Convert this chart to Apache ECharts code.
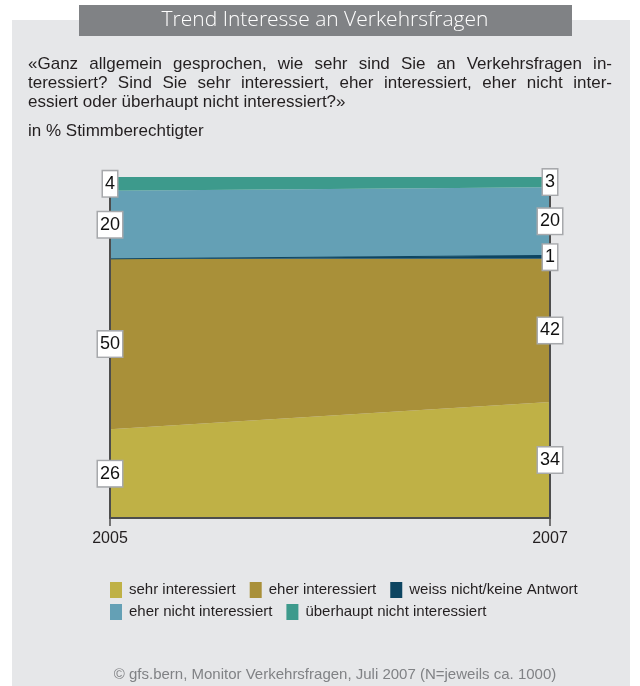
<!DOCTYPE html>
<html>
<head>
<meta charset="utf-8">
<script src="https://cdn.jsdelivr.net/npm/echarts@6/dist/echarts.min.js"></script>
<style>
  html, body { margin: 0; padding: 0; background: #fff; }
  #chart { width: 640px; height: 686px; }
</style>
</head>
<body>
<div id="chart"></div>
<script>
// Jahre
var years = ["2005", "2007"];
// Werte in % (Reihenfolge von unten nach oben)
var sehrInteressiert = [26, 34];
var eherInteressiert = [50, 42];
var weissNicht = [0, 1];
var eherNichtInteressiert = [20, 20];
var ueberhauptNicht = [4, 3];

var seriesNames = [
  "sehr interessiert",
  "eher interessiert",
  "weiss nicht/keine Antwort",
  "eher nicht interessiert",
  "überhaupt nicht interessiert"
];
var seriesColors = ["#bfb146", "#a99039", "#0d4561", "#64a0b5", "#3d9a8c"];
var allValues = [sehrInteressiert, eherInteressiert, weissNicht, eherNichtInteressiert, ueberhauptNicht];

var questionLines = [
  "«Ganz allgemein gesprochen, wie sehr sind Sie an Verkehrsfragen in-",
  "teressiert? Sind Sie sehr interessiert, eher interessiert, eher nicht inter-",
  "essiert oder überhaupt nicht interessiert?»"
];

var arial = "'Liberation Sans', Arial, sans-serif";
var textColor = "#231f20";

var myChart = echarts.init(document.getElementById("chart"));

var series = allValues.map(function (vals, i) {
  return {
    name: seriesNames[i],
    type: "line",
    stack: "total",
    symbol: "none",
    data: vals,
    lineStyle: { width: i === 2 ? 1 : 0, color: seriesColors[i] },
    areaStyle: { color: seriesColors[i], opacity: 1 },
    itemStyle: { color: seriesColors[i] },
    z: 2
  };
});

// Beschriftungen in der Mitte jedes Bandes
var labelData = [];
years.forEach(function (y, j) {
  var base = 0;
  allValues.forEach(function (vals) {
    var v = vals[j];
    if (v > 0) {
      labelData.push({ value: [j, base + v / 2], label: { formatter: String(v) } });
    }
    base += v;
  });
});

series.push({
  type: "scatter",
  data: labelData,
  symbolSize: 2,
  itemStyle: { color: "rgba(0,0,0,0)" },
  silent: true,
  z: 10,
  label: {
    show: true,
    position: "inside",
    fontFamily: arial,
    fontSize: 18,
    lineHeight: 18,
    color: "#111111",
    textBorderWidth: 0,
    opacity: 1,
    backgroundColor: "#ffffff",
    borderColor: "#a7a9ac",
    borderWidth: 1.5,
    padding: [4, 2, 3, 2]
  }
});

// Blocksatz fuer die Frage (letzte Zeile linksbuendig)
var measureCtx = document.createElement("canvas").getContext("2d");
var qFont = "17px " + arial;
measureCtx.font = qFont;
var graphics = [];
questionLines.forEach(function (line, li) {
  var y = 64 + li * 19;
  if (li === questionLines.length - 1) {
    graphics.push({ type: "text", x: 28, y: y, style: { text: line, fill: textColor, font: qFont, verticalAlign: "middle" } });
    return;
  }
  var words = line.split(" ");
  var total = 0;
  words.forEach(function (w) { total += measureCtx.measureText(w).width; });
  var gap = (612 - 28 - total) / (words.length - 1);
  var x = 28;
  words.forEach(function (w) {
    graphics.push({ type: "text", x: x, y: y, style: { text: w, fill: textColor, font: qFont, verticalAlign: "middle" } });
    x += measureCtx.measureText(w).width + gap;
  });
});

var option = {
  animation: false,
  backgroundColor: "#ffffff",
  graphic: [
    { type: "rect", shape: { x: 12, y: 20, width: 618, height: 666 }, style: { fill: "#e6e7e9" }, z: -10 },
    { type: "rect", shape: { x: 79, y: 5, width: 493, height: 31 }, style: { fill: "#808285" }, z: -5 },
    {
      type: "text", x: 325, y: 20,
      style: {
        text: "Trend Interesse an Verkehrsfragen",
        fill: "#ffffff", font: "300 21px 'Open Sans', sans-serif",
        align: "center", verticalAlign: "middle"
      }
    },
    {
      type: "text", x: 28, y: 131,
      style: { text: "in % Stimmberechtigter", fill: textColor, font: "17px " + arial, verticalAlign: "middle" }
    },
    {
      type: "text", x: 335, y: 675,
      style: {
        text: "© gfs.bern, Monitor Verkehrsfragen, Juli 2007 (N=jeweils ca. 1000)",
        fill: "#808285", font: "15px " + arial,
        align: "center", verticalAlign: "middle"
      }
    }
  ].concat(graphics),
  grid: { left: 110, right: 90, top: 177, bottom: 168 },
  legend: [
    {
      data: seriesNames.slice(0, 3),
      left: 110, top: 582, padding: 0,
      icon: "rect", itemWidth: 12, itemHeight: 16, itemGap: 14,
      textStyle: { fontFamily: arial, fontSize: 15, color: textColor, padding: [0, 0, 0, 2] }
    },
    {
      data: seriesNames.slice(3),
      left: 110, top: 604, padding: 0,
      icon: "rect", itemWidth: 12, itemHeight: 16, itemGap: 14,
      textStyle: { fontFamily: arial, fontSize: 15, color: textColor, padding: [0, 0, 0, 2] }
    }
  ],
  xAxis: {
    type: "category",
    data: years,
    boundaryGap: false,
    axisLine: { show: true, lineStyle: { color: "#4d4d4d", width: 2 } },
    axisTick: { show: true, length: 8, lineStyle: { color: "#4d4d4d", width: 1.5 } },
    axisLabel: { fontFamily: arial, fontSize: 16, color: textColor, margin: 13 },
    z: 5
  },
  yAxis: [
    {
      type: "value", min: 0, max: 100,
      axisLine: { show: true, lineStyle: { color: "#4d4d4d", width: 2 } },
      axisTick: { show: false }, axisLabel: { show: false }, splitLine: { show: false },
      z: 5
    },
    {
      type: "value", min: 0, max: 100, position: "right",
      axisLine: { show: true, lineStyle: { color: "#4d4d4d", width: 2 } },
      axisTick: { show: false }, axisLabel: { show: false }, splitLine: { show: false },
      z: 5
    }
  ],
  series: series
};

myChart.setOption(option);
</script>
</body>
</html>
